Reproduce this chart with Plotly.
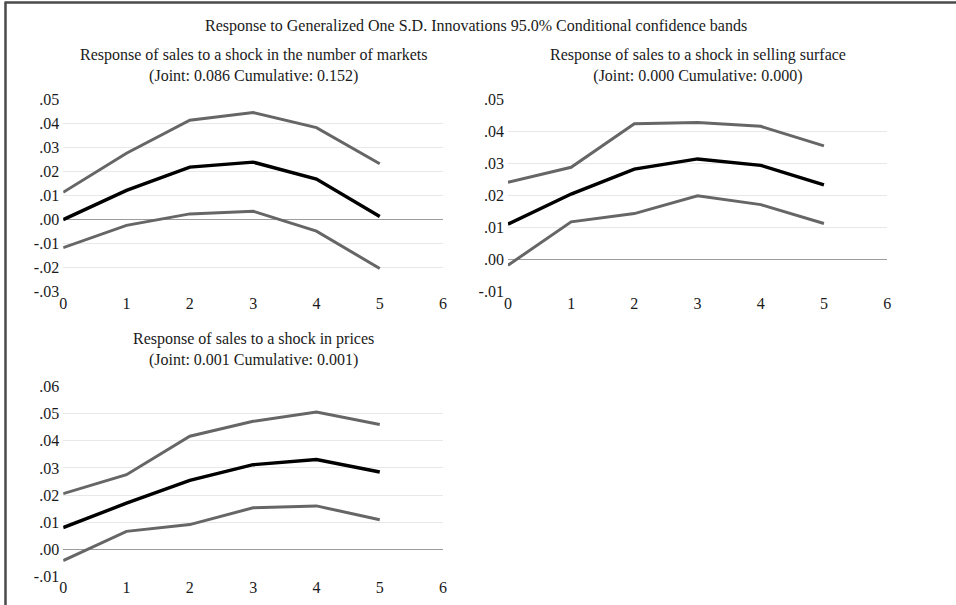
import plotly.graph_objects as go

# Impulse-response horizons
periods = [0, 1, 2, 3, 4, 5]

# Response of sales to a shock in the number of markets
markets_resp = [0.0000, 0.0122, 0.0219, 0.0240, 0.0169, 0.0013]
markets_upper = [0.0114, 0.0277, 0.0415, 0.0447, 0.0384, 0.0233]
markets_lower = [-0.0117, -0.0024, 0.0024, 0.0035, -0.0048, -0.0204]

# Response of sales to a shock in selling surface
surface_resp = [0.0111, 0.0205, 0.0283, 0.0315, 0.0295, 0.0234]
surface_upper = [0.0242, 0.0289, 0.0425, 0.0429, 0.0417, 0.0356]
surface_lower = [-0.0018, 0.0118, 0.0144, 0.0200, 0.0172, 0.0113]

# Response of sales to a shock in prices
prices_resp = [0.0080, 0.0170, 0.0254, 0.0312, 0.0331, 0.0285]
prices_upper = [0.0205, 0.0275, 0.0417, 0.0472, 0.0506, 0.0460]
prices_lower = [-0.0042, 0.0066, 0.0091, 0.0153, 0.0160, 0.0109]

main_title = "Response to Generalized One S.D. Innovations 95.0% Conditional confidence bands"
panel_titles = [
    "Response of sales to a shock in the number of markets<br>(Joint: 0.086 Cumulative: 0.152)",
    "Response of sales to a shock in selling surface<br>(Joint: 0.000 Cumulative: 0.000)",
    "Response of sales to a shock in prices<br>(Joint: 0.001 Cumulative: 0.001)",
]

x_ticks = [0, 1, 2, 3, 4, 5, 6]
y_ticks_1 = [-0.03, -0.02, -0.01, 0.00, 0.01, 0.02, 0.03, 0.04, 0.05]
y_ticks_2 = [-0.01, 0.00, 0.01, 0.02, 0.03, 0.04, 0.05]
y_ticks_3 = [-0.01, 0.00, 0.01, 0.02, 0.03, 0.04, 0.05, 0.06]


def fmt(v):
    s = f"{v:.2f}"
    return s.replace("0.", ".", 1)


W, H = 956, 605
# plotting paper as laid out on the page (inset from the svg edges)
PX0, PY0, PW, PH = 3.0, 8.0, 950.0, 589.0


def fx(px):
    return (px - PX0) / PW


def fy(py):
    return 1 - (py - PY0) / PH


FONT = "Liberation Serif, Times New Roman, serif"
TXT = "#1a1a1a"
BAND = "#666666"

panels = [
    dict(resp=markets_resp, up=markets_upper, lo=markets_lower, ticks=y_ticks_1,
         px=(62.3, 443.0), py=(100.0, 292.0), title_gap=34),
    dict(resp=surface_resp, up=surface_upper, lo=surface_lower, ticks=y_ticks_2,
         px=(508.0, 888.0), py=(100.0, 292.0), title_gap=34),
    dict(resp=prices_resp, up=prices_upper, lo=prices_lower, ticks=y_ticks_3,
         px=(62.3, 443.0), py=(387.3, 577.3), title_gap=37),
]

fig = go.Figure()
layout = {}
annotations = []

for i, p in enumerate(panels, start=1):
    xa = "x" if i == 1 else f"x{i}"
    ya = "y" if i == 1 else f"y{i}"
    for series, color, lw in ((p["up"], BAND, 3), (p["lo"], BAND, 3), (p["resp"], "#000000", 3.4)):
        fig.add_trace(go.Scatter(
            x=periods, y=series, mode="lines", xaxis=xa, yaxis=ya,
            line=dict(color=color, width=lw), showlegend=False, hoverinfo="skip",
        ))
    xkey = "xaxis" if i == 1 else f"xaxis{i}"
    ykey = "yaxis" if i == 1 else f"yaxis{i}"
    layout[xkey] = dict(
        domain=[fx(p["px"][0]), fx(p["px"][1])], anchor=ya,
        range=[0, 6], tickvals=x_ticks, ticktext=[str(t) for t in x_ticks],
        showgrid=False, zeroline=False, showline=False, ticks="",
        ticklabelstandoff=0,
        tickfont=dict(family=FONT, size=16, color=TXT),
    )
    layout[ykey] = dict(
        domain=[fy(p["py"][1]), fy(p["py"][0])], anchor=xa,
        range=[p["ticks"][0], p["ticks"][-1]],
        tickvals=p["ticks"], ticktext=[fmt(t) for t in p["ticks"]],
        showgrid=True, gridcolor="#e8e8e8", gridwidth=1,
        zeroline=True, zerolinecolor="#9c9c9c", zerolinewidth=1,
        showline=False, ticks="", ticklabelstandoff=3,
        tickfont=dict(family=FONT, size=16, color=TXT),
    )
    annotations.append(dict(
        text=panel_titles[i - 1], xref=f"{xa} domain", x=0.5,
        yref="paper", y=fy(p["py"][0] - p["title_gap"]), yanchor="middle",
        showarrow=False, font=dict(family=FONT, size=16, color=TXT),
        align="center",
    ))

annotations.append(dict(
    text=main_title, xref="paper", x=fx(476), yref="paper", y=fy(26),
    yanchor="middle", showarrow=False, font=dict(family=FONT, size=16, color=TXT),
))

fig.update_layout(
    width=W, height=H, margin=dict(l=0, r=0, t=0, b=0),
    paper_bgcolor="white", plot_bgcolor="white",
    annotations=annotations,
    shapes=[
        dict(type="line", xref="paper", yref="paper", x0=fx(3.5), x1=fx(960), y0=fy(2.5), y1=fy(2.5),
             line=dict(color="#4a4a4a", width=2.5)),
        dict(type="line", xref="paper", yref="paper", x0=fx(4.5), x1=fx(4.5), y0=fy(610), y1=fy(2.5),
             line=dict(color="#4a4a4a", width=2.5)),
    ],
    **layout,
)

fig.write_html("out.html")
